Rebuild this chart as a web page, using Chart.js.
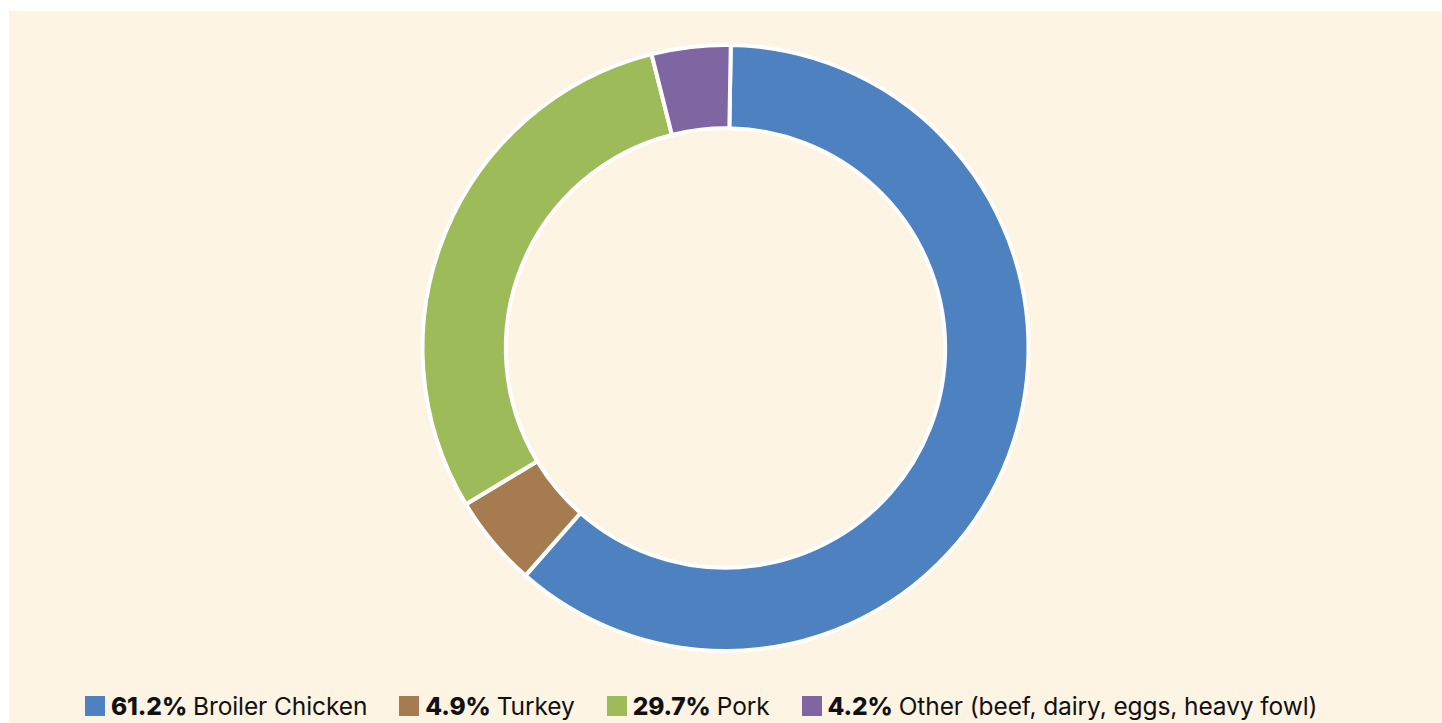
<!DOCTYPE html>
<html>
<head>
<meta charset="utf-8">
<script src="https://cdn.jsdelivr.net/npm/chart.js@4"></script>
<style>
  html, body { margin: 0; padding: 0; background: #fff; }
  #panel {
    position: absolute; left: 9px; top: 11px; width: 1433px; height: 712px;
    background: #fdf4e3;
  }
  #chartBox { position: absolute; left: 0; top: 0; width: 1433px; height: 674px; }
  #legend {
    position: absolute; left: 76px; top: 680px; height: 30px;
    display: flex; align-items: center;
    font-family: Inter, "Noto Sans", sans-serif; font-size: 24.5px; color: #111;
    letter-spacing: -0.1px; white-space: nowrap;
  }
  .item { display: flex; align-items: center; margin-right: 32px; }
  .box { width: 20px; height: 20px; margin-right: 6px; }
  .item b { font-weight: 800; margin-right: 6px; }
</style>
</head>
<body>
<div id="panel">
  <div id="chartBox"><canvas id="myChart"></canvas></div>
  <div id="legend"></div>
</div>
<script>
const labels = [
    'Broiler Chicken',
    'Turkey',
    'Pork',
    'Other (beef, dairy, eggs, heavy fowl)',
];

const shares = [61.2, 4.9, 29.7, 4.2];

const colors = ['#4e81bf', '#a67b50', '#9ebb5a', '#7f65a2'];

const data = {
    labels: labels,
    datasets: [
        {
            data: shares,
            backgroundColor: colors,
            borderColor: '#ffffff',
            borderWidth: 4,
        },
    ]
};

const config = {
    type: 'doughnut',
    data: data,
    options: {
        responsive: true,
        maintainAspectRatio: false,
        animation: false,
        cutout: '72.5%',
        rotation: 1,
        layout: { padding: { top: 32, bottom: 32 } },
        plugins: {
            legend: { display: false },
            tooltip: { enabled: false }
        }
    }
};

const chart = new Chart(
    document.getElementById('myChart'),
    config
);

// legend with bold percentages
const legend = document.getElementById('legend');
labels.forEach((name, i) => {
    const item = document.createElement('div');
    item.className = 'item';
    const box = document.createElement('span');
    box.className = 'box';
    box.style.background = colors[i];
    const pct = document.createElement('b');
    pct.textContent = shares[i] + '%';
    const txt = document.createElement('span');
    txt.textContent = name;
    item.append(box, pct, txt);
    legend.appendChild(item);
});
</script>
</body>
</html>
